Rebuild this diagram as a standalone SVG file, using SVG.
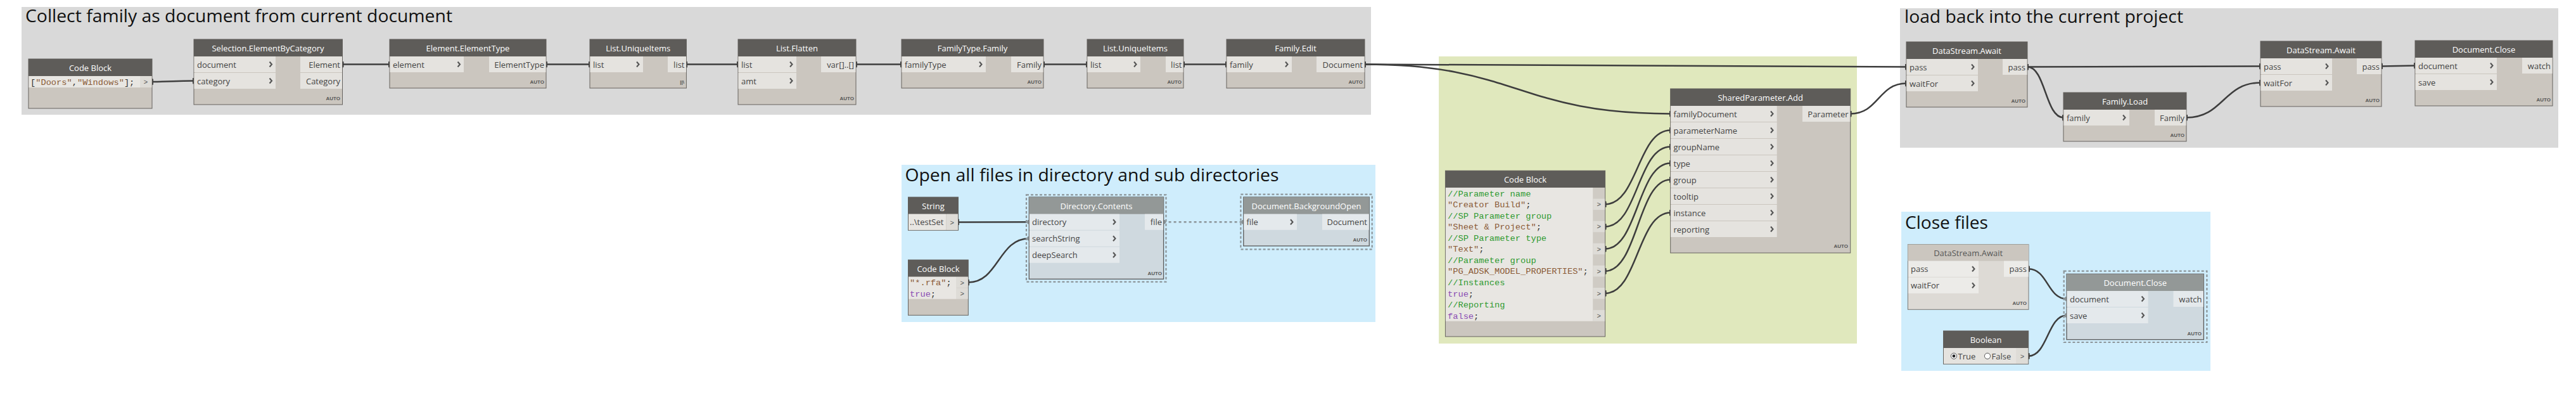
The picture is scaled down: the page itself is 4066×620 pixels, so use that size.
<svg xmlns="http://www.w3.org/2000/svg" width="4066" height="620" viewBox="0 0 4066 620">
<defs>
<style>
.gg{fill:#d9d9d9}.gb{fill:#cfedfc}.gn{fill:#e0e8bd}
.title{font-family:"Open Sans","Liberation Sans",sans-serif;font-size:28px;fill:#111}
.nb{fill:#cbc6bf;stroke:#66635f;stroke-width:1}
.nh{fill:#5e5c59}
.ht{font-family:"Open Sans","Liberation Sans",sans-serif;font-size:13px;fill:#fff;text-anchor:middle}
.pr{fill:#e5e3df}
.pl{font-family:"Open Sans","Liberation Sans",sans-serif;font-size:13px;fill:#444}
.po{font-family:"Open Sans","Liberation Sans",sans-serif;font-size:13px;fill:#444;text-anchor:end}
.auto{font-family:"Liberation Sans",sans-serif;font-size:8px;font-weight:bold;fill:#555;text-anchor:end}
.chev{stroke:#555;stroke-width:2.1;fill:none}
.fb{fill:#cfd9df;stroke:#5a5a5a;stroke-width:1.3}
.fh{fill:#939897}
.fr{fill:#e4e9ec}
.dash{fill:none;stroke:#8c9599;stroke-width:2.2;stroke-dasharray:4 3}
.ib{fill:#dddad5;stroke:#7a7874;stroke-width:1}
.ih{fill:#cbc6bf}
.ir{fill:#ecebe8}
.iht{font-family:"Open Sans","Liberation Sans",sans-serif;font-size:13px;fill:#555;text-anchor:middle}
.cr{fill:#e8e6e2}
.pb{fill:#dedcd7}
.pc{fill:#cfcbc4}
.gt{font-family:"Liberation Sans",sans-serif;font-size:11px;fill:#555;text-anchor:middle}
.code{font-family:"Liberation Mono","DejaVu Sans Mono",monospace;font-size:13.7px}
.cm{fill:#2f9a30}.str{fill:#8a5a36}.kw{fill:#8a4db3}.pn{fill:#333}
.w{fill:none;stroke:#3d3d3d;stroke-width:2.5;marker-start:url(#knob);marker-end:url(#knob)}
.wf{fill:none;stroke:#3d3d3d;stroke-width:2.5;marker-start:url(#knob);marker-end:url(#dot)}
.wd{fill:none;stroke:#8c9599;stroke-width:2.5;stroke-dasharray:4 4;marker-start:url(#dot);marker-end:url(#dot)}
</style>
<marker id="knob" viewBox="0 0 4 10" refX="2" refY="5" markerWidth="4" markerHeight="10" markerUnits="userSpaceOnUse" orient="auto"><rect x="0" y="0" width="4" height="10" rx="1.5" fill="#3d3d3d"/></marker>
<marker id="dot" viewBox="0 0 8 8" refX="4" refY="4" markerWidth="7" markerHeight="7" markerUnits="userSpaceOnUse" orient="auto"><circle cx="4" cy="4" r="4" fill="#8c9599"/></marker>
</defs>

<!-- groups -->
<g id="group-collect">
<rect class="gg" x="34" y="11" width="2130" height="170"/>
<text class="title" x="40" y="35" textLength="674" lengthAdjust="spacingAndGlyphs">Collect family as document from current document</text>
</g>
<g id="group-load">
<rect class="gg" x="2999" y="13" width="1039" height="220"/>
<text class="title" x="3006" y="36" textLength="440" lengthAdjust="spacingAndGlyphs">load back into the current project</text>
</g>
<g id="group-open">
<rect class="gb" x="1423" y="260" width="748" height="248"/>
<text class="title" x="1428.5" y="286" textLength="590" lengthAdjust="spacingAndGlyphs">Open all files in directory and sub directories</text>
</g>
<g id="group-param">
<rect class="gn" x="2271" y="89" width="660" height="453"/>
</g>
<g id="group-close">
<rect class="gb" x="3001" y="334" width="488" height="251"/>
<text class="title" x="3007" y="361" textLength="131" lengthAdjust="spacingAndGlyphs">Close files</text>
</g>

<!-- connectors -->
<g id="connectors">
<path class="w" d="M240,129 C273,129 273,127.5 306,127.5"/>
<path class="w" d="M540.5,101.5 L615,101.5"/>
<path class="w" d="M862,101.5 L931,101.5"/>
<path class="w" d="M1083.4,101.5 L1165,101.5"/>
<path class="w" d="M1351,101.5 L1423,101.5"/>
<path class="w" d="M1647,101.5 L1716,101.5"/>
<path class="w" d="M1868,101.5 L1936,101.5"/>
<path class="w" d="M2154,101.5 C2581,101.5 2582,105.5 3009,105.5"/>
<path class="w" d="M2154,101.5 C2395,101.5 2396,179.5 2637,179.5"/>
<path class="w" d="M2920.7,179.5 C2965,179.5 2965,131.5 3009,131.5"/>
<path class="w" d="M3200,105.5 C3384,105.5 3384,104.5 3568,104.5"/>
<path class="w" d="M3200,105.5 C3228.5,105.5 3228.5,185.5 3257,185.5"/>
<path class="w" d="M3451,185.5 C3509.5,185.5 3509.5,130.5 3568,130.5"/>
<path class="w" d="M3759,104.5 L3812,103.5"/>
<path class="w" d="M2533.6,322.3 C2585,322.3 2585,205.5 2636.7,205.5"/>
<path class="w" d="M2533.6,357.5 C2585,357.5 2585,231.5 2636.7,231.5"/>
<path class="w" d="M2533.6,392.6 C2585,392.6 2585,257.5 2636.7,257.5"/>
<path class="w" d="M2533.6,427.7 C2585,427.7 2585,283.5 2636.7,283.5"/>
<path class="w" d="M2533.6,462.8 C2585,462.8 2585,335.5 2636.7,335.5"/>
<path class="wf" d="M1512.4,350.5 L1624.3,350.2"/>
<path class="wf" d="M1528.3,445.5 C1576,445.5 1576,376.2 1624.3,376.2"/>
<path class="wd" d="M1836.6,350.2 L1962.8,350.2"/>
<path class="wf" d="M3202,424.2 C3232,424.2 3232,471.5 3262,471.5"/>
<path class="wf" d="M3201.7,561.7 C3232,561.7 3232,497.5 3262,497.5"/>
</g>

<!-- nodes: Collect group -->
<g id="node-codeblock1">
<rect class="nb" x="45" y="93" width="195" height="78"/>
<rect class="nh" x="45" y="93" width="195" height="27"/>
<text class="ht" x="142.5" y="111.5">Code Block</text>
<rect class="cr" x="45.5" y="120" width="175.5" height="18"/>
<rect class="pb" x="221" y="120" width="18.5" height="18"/>
<text class="gt" x="230" y="133">&gt;</text>
<text class="code" x="48" y="134" font-size="14"><tspan class="pn">[</tspan><tspan class="str">"Doors"</tspan><tspan class="pn">,</tspan><tspan class="str">"Windows"</tspan><tspan class="pn">];</tspan></text>
</g>

<g id="node-selection">
<rect class="nb" x="306" y="62" width="234.5" height="103"/>
<rect class="nh" x="306" y="62" width="234.5" height="27"/>
<text class="ht" x="423" y="80.5">Selection.ElementByCategory</text>
<rect class="pr" x="306.5" y="89" width="128.5" height="25"/>
<rect class="pr" x="306.5" y="115" width="128.5" height="25"/>
<text class="pl" x="311" y="106.5">document</text>
<text class="pl" x="311" y="132.5">category</text>
<path class="chev" d="M425.5,97.5 l3.5,4 l-3.5,4 M425.5,123.5 l3.5,4 l-3.5,4"/>
<rect class="pr" x="474" y="89" width="66" height="25"/>
<rect class="pr" x="474" y="115" width="66" height="25"/>
<text class="po" x="537" y="106.5">Element</text>
<text class="po" x="537" y="132.5">Category</text>
<text class="auto" x="537" y="158">AUTO</text>
</g>

<g id="node-elementtype">
<rect class="nb" x="615" y="62" width="247" height="77"/>
<rect class="nh" x="615" y="62" width="247" height="27"/>
<text class="ht" x="738.5" y="80.5">Element.ElementType</text>
<rect class="pr" x="615.5" y="89" width="116.5" height="25"/>
<text class="pl" x="620" y="106.5">element</text>
<path class="chev" d="M722.5,97.5 l3.5,4 l-3.5,4"/>
<rect class="pr" x="772" y="89" width="89.5" height="25"/>
<text class="po" x="859" y="106.5">ElementType</text>
<text class="auto" x="859" y="132">AUTO</text>
</g>

<g id="node-uniqueitems1">
<rect class="nb" x="931" y="62" width="152.4" height="77"/>
<rect class="nh" x="931" y="62" width="152.4" height="27"/>
<text class="ht" x="1007.2" y="80.5">List.UniqueItems</text>
<rect class="pr" x="931.5" y="89" width="83.5" height="25"/>
<text class="pl" x="936" y="106.5">list</text>
<path class="chev" d="M1005,97.5 l3.5,4 l-3.5,4"/>
<rect class="pr" x="1054" y="89" width="29" height="25"/>
<text class="po" x="1080.5" y="106.5">list</text>
<text class="auto" x="1080" y="132" font-weight="normal" font-size="9">||\</text>
</g>

<g id="node-flatten">
<rect class="nb" x="1165" y="62" width="186" height="103"/>
<rect class="nh" x="1165" y="62" width="186" height="27"/>
<text class="ht" x="1258" y="80.5">List.Flatten</text>
<rect class="pr" x="1165.5" y="89" width="91.5" height="25"/>
<rect class="pr" x="1165.5" y="115" width="91.5" height="25"/>
<text class="pl" x="1170" y="106.5">list</text>
<text class="pl" x="1170" y="132.5">amt</text>
<path class="chev" d="M1247,97.5 l3.5,4 l-3.5,4 M1247,123.5 l3.5,4 l-3.5,4"/>
<rect class="pr" x="1296" y="89" width="54.5" height="25"/>
<text class="po" x="1348" y="106.5">var[]..[]</text>
<text class="auto" x="1348" y="158">AUTO</text>
</g>

<g id="node-familytype">
<rect class="nb" x="1423" y="62" width="224" height="77"/>
<rect class="nh" x="1423" y="62" width="224" height="27"/>
<text class="ht" x="1535" y="80.5">FamilyType.Family</text>
<rect class="pr" x="1423.5" y="89" width="132.5" height="25"/>
<text class="pl" x="1428" y="106.5">familyType</text>
<path class="chev" d="M1546,97.5 l3.5,4 l-3.5,4"/>
<rect class="pr" x="1596" y="89" width="50.5" height="25"/>
<text class="po" x="1644" y="106.5">Family</text>
<text class="auto" x="1644" y="132">AUTO</text>
</g>

<g id="node-uniqueitems2">
<rect class="nb" x="1716" y="62" width="152" height="77"/>
<rect class="nh" x="1716" y="62" width="152" height="27"/>
<text class="ht" x="1792" y="80.5">List.UniqueItems</text>
<rect class="pr" x="1716.5" y="89" width="83.5" height="25"/>
<text class="pl" x="1721" y="106.5">list</text>
<path class="chev" d="M1790,97.5 l3.5,4 l-3.5,4"/>
<rect class="pr" x="1840" y="89" width="27.5" height="25"/>
<text class="po" x="1865.5" y="106.5">list</text>
<text class="auto" x="1865" y="132">AUTO</text>
</g>

<g id="node-familyedit">
<rect class="nb" x="1936" y="62" width="218" height="77"/>
<rect class="nh" x="1936" y="62" width="218" height="27"/>
<text class="ht" x="2045" y="80.5">Family.Edit</text>
<rect class="pr" x="1936.5" y="89" width="102.5" height="25"/>
<text class="pl" x="1941" y="106.5">family</text>
<path class="chev" d="M2029,97.5 l3.5,4 l-3.5,4"/>
<rect class="pr" x="2078" y="89" width="75.5" height="25"/>
<text class="po" x="2151" y="106.5">Document</text>
<text class="auto" x="2151" y="132">AUTO</text>
</g>

<!-- nodes: Load group -->
<g id="node-await1">
<rect class="nb" x="3009" y="66" width="191" height="103"/>
<rect class="nh" x="3009" y="66" width="191" height="27"/>
<text class="ht" x="3104.5" y="84.5">DataStream.Await</text>
<rect class="pr" x="3009.5" y="93" width="112.5" height="25"/>
<rect class="pr" x="3009.5" y="119" width="112.5" height="25"/>
<text class="pl" x="3014" y="110.5">pass</text>
<text class="pl" x="3014" y="136.5">waitFor</text>
<path class="chev" d="M3112,101.5 l3.5,4 l-3.5,4 M3112,127.5 l3.5,4 l-3.5,4"/>
<rect class="pr" x="3161" y="93" width="38.5" height="25"/>
<text class="po" x="3197" y="110.5">pass</text>
<text class="auto" x="3197" y="162">AUTO</text>
</g>

<g id="node-familyload">
<rect class="nb" x="3257" y="146" width="194" height="77"/>
<rect class="nh" x="3257" y="146" width="194" height="27"/>
<text class="ht" x="3354" y="164.5">Family.Load</text>
<rect class="pr" x="3257.5" y="173" width="103.5" height="25"/>
<text class="pl" x="3262" y="190.5">family</text>
<path class="chev" d="M3351,181.5 l3.5,4 l-3.5,4"/>
<rect class="pr" x="3401" y="173" width="49.5" height="25"/>
<text class="po" x="3448" y="190.5">Family</text>
<text class="auto" x="3448" y="216">AUTO</text>
</g>

<g id="node-await2">
<rect class="nb" x="3568" y="65" width="191" height="103"/>
<rect class="nh" x="3568" y="65" width="191" height="27"/>
<text class="ht" x="3663.5" y="83.5">DataStream.Await</text>
<rect class="pr" x="3568.5" y="92" width="112.5" height="25"/>
<rect class="pr" x="3568.5" y="118" width="112.5" height="25"/>
<text class="pl" x="3573" y="109.5">pass</text>
<text class="pl" x="3573" y="135.5">waitFor</text>
<path class="chev" d="M3671,100.5 l3.5,4 l-3.5,4 M3671,126.5 l3.5,4 l-3.5,4"/>
<rect class="pr" x="3720" y="92" width="38.5" height="25"/>
<text class="po" x="3756" y="109.5">pass</text>
<text class="auto" x="3756" y="161">AUTO</text>
</g>

<g id="node-docclose1">
<rect class="nb" x="3812" y="64" width="217" height="103"/>
<rect class="nh" x="3812" y="64" width="217" height="27"/>
<text class="ht" x="3920.5" y="82.5">Document.Close</text>
<rect class="pr" x="3812.5" y="91" width="128.5" height="25"/>
<rect class="pr" x="3812.5" y="117" width="128.5" height="25"/>
<text class="pl" x="3817" y="108.5">document</text>
<text class="pl" x="3817" y="134.5">save</text>
<path class="chev" d="M3931,99.5 l3.5,4 l-3.5,4 M3931,125.5 l3.5,4 l-3.5,4"/>
<rect class="pr" x="3981" y="91" width="47.5" height="25"/>
<text class="po" x="4026" y="108.5">watch</text>
<text class="auto" x="4026" y="160">AUTO</text>
</g>

<!-- nodes: Open group -->
<g id="node-string">
<rect class="nb" x="1433.5" y="311" width="79" height="52.3"/>
<rect class="nh" x="1433.5" y="311" width="79" height="26.7"/>
<text class="ht" x="1473" y="329.5">String</text>
<rect class="cr" x="1434" y="337.7" width="59" height="25.1"/>
<rect class="pb" x="1493.5" y="337.7" width="18.5" height="25.1"/>
<text class="gt" x="1502.7" y="354.5">&gt;</text>
<text class="pl" x="1436" y="355" font-size="12">..\testSet</text>
</g>

<g id="node-codeblock2">
<rect class="nb" x="1433.5" y="410" width="94.8" height="87.3"/>
<rect class="nh" x="1433.5" y="410" width="94.8" height="26.7"/>
<text class="ht" x="1481" y="428.5">Code Block</text>
<rect class="cr" x="1434" y="436.7" width="75.7" height="35"/>
<rect class="pb" x="1509.7" y="436.7" width="18.1" height="17.1"/>
<rect class="pb" x="1509.7" y="454.3" width="18.1" height="17.4"/>
<text class="gt" x="1518.7" y="449.5">&gt;</text>
<text class="gt" x="1518.7" y="467">&gt;</text>
<text class="code" x="1436" y="450"><tspan class="str">"*.rfa"</tspan><tspan class="pn">;</tspan></text>
<text class="code" x="1436" y="467.5"><tspan class="kw">true</tspan><tspan class="pn">;</tspan></text>
</g>

<g id="node-dircontents">
<rect class="dash" x="1620" y="307.3" width="220.5" height="137.4"/>
<rect class="fb" x="1624.3" y="311" width="212.3" height="129.3"/>
<rect class="fh" x="1624.3" y="311" width="212.3" height="26.7"/>
<text class="ht" x="1730.5" y="329.5">Directory.Contents</text>
<rect class="fr" x="1624.8" y="337.7" width="142.2" height="25"/>
<rect class="fr" x="1624.8" y="363.7" width="142.2" height="25"/>
<rect class="fr" x="1624.8" y="389.7" width="142.2" height="25"/>
<text class="pl" x="1629" y="355.2">directory</text>
<text class="pl" x="1629" y="381.2">searchString</text>
<text class="pl" x="1629" y="407.2">deepSearch</text>
<path class="chev" d="M1757,346.2 l3.5,4 l-3.5,4 M1757,372.2 l3.5,4 l-3.5,4 M1757,398.2 l3.5,4 l-3.5,4"/>
<rect class="fr" x="1807" y="337.7" width="29.1" height="25"/>
<text class="po" x="1834" y="355.2">file</text>
<text class="auto" x="1834" y="434">AUTO</text>
</g>

<g id="node-bgopen">
<rect class="dash" x="1958.4" y="306.7" width="207.3" height="86.6"/>
<rect class="fb" x="1962.8" y="311" width="198.5" height="77"/>
<rect class="fh" x="1962.8" y="311" width="198.5" height="26.7"/>
<text class="ht" x="2062" y="329.5">Document.BackgroundOpen</text>
<rect class="fr" x="1963.3" y="337.7" width="83.7" height="25"/>
<text class="pl" x="1967.5" y="355.2">file</text>
<path class="chev" d="M2037,346.2 l3.5,4 l-3.5,4"/>
<rect class="fr" x="2087" y="337.7" width="73.8" height="25"/>
<text class="po" x="2158" y="355.2">Document</text>
<text class="auto" x="2158" y="381">AUTO</text>
</g>

<!-- nodes: Parameter group -->
<g id="node-sharedparam">
<rect class="nb" x="2636.7" y="140" width="284" height="259"/>
<rect class="nh" x="2636.7" y="140" width="284" height="27"/>
<text class="ht" x="2778.7" y="158.5">SharedParameter.Add</text>
<rect class="pr" x="2637.2" y="167" width="167.5" height="25"/>
<rect class="pr" x="2637.2" y="193" width="167.5" height="25"/>
<rect class="pr" x="2637.2" y="219" width="167.5" height="25"/>
<rect class="pr" x="2637.2" y="245" width="167.5" height="25"/>
<rect class="pr" x="2637.2" y="271" width="167.5" height="25"/>
<rect class="pr" x="2637.2" y="297" width="167.5" height="25"/>
<rect class="pr" x="2637.2" y="323" width="167.5" height="25"/>
<rect class="pr" x="2637.2" y="349" width="167.5" height="25"/>
<text class="pl" x="2641.5" y="184.5">familyDocument</text>
<text class="pl" x="2641.5" y="210.5">parameterName</text>
<text class="pl" x="2641.5" y="236.5">groupName</text>
<text class="pl" x="2641.5" y="262.5">type</text>
<text class="pl" x="2641.5" y="288.5">group</text>
<text class="pl" x="2641.5" y="314.5">tooltip</text>
<text class="pl" x="2641.5" y="340.5">instance</text>
<text class="pl" x="2641.5" y="366.5">reporting</text>
<path class="chev" d="M2795,175.5 l3.5,4 l-3.5,4 M2795,201.5 l3.5,4 l-3.5,4 M2795,227.5 l3.5,4 l-3.5,4 M2795,253.5 l3.5,4 l-3.5,4 M2795,279.5 l3.5,4 l-3.5,4 M2795,305.5 l3.5,4 l-3.5,4 M2795,331.5 l3.5,4 l-3.5,4 M2795,357.5 l3.5,4 l-3.5,4"/>
<rect class="pr" x="2845" y="167" width="75.2" height="25"/>
<text class="po" x="2917.5" y="184.5">Parameter</text>
<text class="auto" x="2917" y="391">AUTO</text>
</g>

<g id="node-codeblock3">
<rect class="nb" x="2281.4" y="269.3" width="252.2" height="261.7"/>
<rect class="nh" x="2281.4" y="269.3" width="252.2" height="26.7"/>
<text class="ht" x="2407.5" y="287.8">Code Block</text>
<rect class="cr" x="2281.9" y="296" width="232.6" height="210.7"/>
<rect class="pc" x="2514.5" y="296" width="18.6" height="210.7"/>
<rect class="pb" x="2514.5" y="313.6" width="18.6" height="17.5"/>
<rect class="pb" x="2514.5" y="348.7" width="18.6" height="17.5"/>
<rect class="pb" x="2514.5" y="383.8" width="18.6" height="17.5"/>
<rect class="pb" x="2514.5" y="418.9" width="18.6" height="17.5"/>
<rect class="pb" x="2514.5" y="454" width="18.6" height="17.5"/>
<rect class="pb" x="2514.5" y="489.2" width="18.6" height="17.5"/>
<text class="gt" x="2523.8" y="326.3">&gt;</text>
<text class="gt" x="2523.8" y="361.4">&gt;</text>
<text class="gt" x="2523.8" y="396.5">&gt;</text>
<text class="gt" x="2523.8" y="431.6">&gt;</text>
<text class="gt" x="2523.8" y="466.7">&gt;</text>
<text class="gt" x="2523.8" y="501.9">&gt;</text>
<text class="code cm" x="2285" y="309.5">//Parameter name</text>
<text class="code" x="2285" y="327.1"><tspan class="str">"Creator Build"</tspan><tspan class="pn">;</tspan></text>
<text class="code cm" x="2285" y="344.6">//SP Parameter group</text>
<text class="code" x="2285" y="362.2"><tspan class="str">"Sheet &amp; Project"</tspan><tspan class="pn">;</tspan></text>
<text class="code cm" x="2285" y="379.7">//SP Parameter type</text>
<text class="code" x="2285" y="397.3"><tspan class="str">"Text"</tspan><tspan class="pn">;</tspan></text>
<text class="code cm" x="2285" y="414.9">//Parameter group</text>
<text class="code" x="2285" y="432.4"><tspan class="str">"PG_ADSK_MODEL_PROPERTIES"</tspan><tspan class="pn">;</tspan></text>
<text class="code cm" x="2285" y="450">//Instances</text>
<text class="code" x="2285" y="467.5"><tspan class="kw">true</tspan><tspan class="pn">;</tspan></text>
<text class="code cm" x="2285" y="485.1">//Reporting</text>
<text class="code" x="2285" y="502.7"><tspan class="kw">false</tspan><tspan class="pn">;</tspan></text>
</g>

<!-- nodes: Close group -->
<g id="node-await3">
<rect class="ib" x="3011.4" y="385.7" width="190.6" height="102.6"/>
<rect class="ih" x="3011.4" y="385.7" width="190.6" height="26"/>
<text class="iht" x="3106.7" y="403.5">DataStream.Await</text>
<rect class="ir" x="3011.9" y="411.7" width="111.1" height="25"/>
<rect class="ir" x="3011.9" y="437.7" width="111.1" height="25"/>
<text class="pl" x="3016" y="429.2" fill="#555">pass</text>
<text class="pl" x="3016" y="455.2" fill="#555">waitFor</text>
<path class="chev" d="M3113,420.2 l3.5,4 l-3.5,4 M3113,446.2 l3.5,4 l-3.5,4"/>
<rect class="ir" x="3163" y="411.7" width="38.5" height="25"/>
<text class="po" x="3199" y="429.2" fill="#555">pass</text>
<text class="auto" x="3199" y="481">AUTO</text>
</g>

<g id="node-docclose2">
<rect class="dash" x="3257.7" y="427.7" width="225.7" height="112.3"/>
<rect class="fb" x="3262" y="432.3" width="216.4" height="103.4"/>
<rect class="fh" x="3262" y="432.3" width="216.4" height="26.7"/>
<text class="ht" x="3370.2" y="450.5">Document.Close</text>
<rect class="fr" x="3262.5" y="459" width="128.1" height="25"/>
<rect class="fr" x="3262.5" y="485" width="128.1" height="25"/>
<text class="pl" x="3267" y="476.5">document</text>
<text class="pl" x="3267" y="502.5">save</text>
<path class="chev" d="M3380.5,467.5 l3.5,4 l-3.5,4 M3380.5,493.5 l3.5,4 l-3.5,4"/>
<rect class="fr" x="3430.5" y="459" width="47.4" height="25"/>
<text class="po" x="3475.5" y="476.5">watch</text>
<text class="auto" x="3475" y="529">AUTO</text>
</g>

<g id="node-boolean">
<rect class="nb" x="3067.5" y="522" width="134.2" height="52.3"/>
<rect class="nh" x="3067.5" y="522" width="134.2" height="27"/>
<text class="ht" x="3134.6" y="540.5">Boolean</text>
<rect class="pr" x="3068" y="549" width="114.8" height="24.8"/>
<rect class="pb" x="3182.8" y="549" width="18.4" height="24.8"/>
<text class="gt" x="3192" y="565.5">&gt;</text>
<circle cx="3084" cy="561.7" r="4.6" fill="#fff" stroke="#555" stroke-width="1"/>
<circle cx="3084" cy="561.7" r="2.4" fill="#222"/>
<text class="pl" x="3090.5" y="566.5" fill="#222">True</text>
<circle cx="3137" cy="561.7" r="4.6" fill="#fff" stroke="#555" stroke-width="1"/>
<text class="pl" x="3143.5" y="566.5" fill="#222">False</text>
</g>
</svg>
